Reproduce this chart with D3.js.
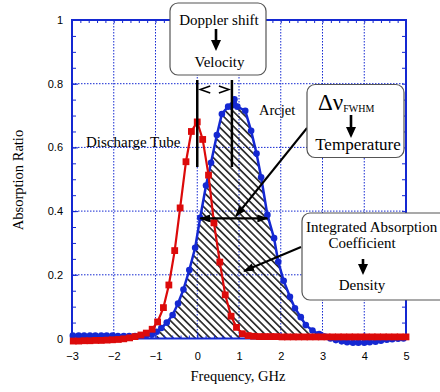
<!DOCTYPE html>
<html>
<head>
<meta charset="utf-8">
<script src="https://cdn.jsdelivr.net/npm/d3@7"></script>
<style>
  body { margin: 0; background: #fff; }
  svg { display: block; }
  .tick text { font-family: "Liberation Sans", Arial, sans-serif; font-size: 11px; fill: #000; }
  .serif { font-family: "Liberation Serif", "Times New Roman", serif; fill: #000; }
</style>
</head>
<body>
<svg id="chart" width="440" height="392"></svg>
<script>
// Discharge tube (red squares)
const tubeFreq = [-2.97, -2.84, -2.70, -2.57, -2.43, -2.30, -2.16, -2.03, -1.89, -1.76, -1.62, -1.49, -1.35, -1.22, -1.08,
  -0.95, -0.81, -0.68, -0.54, -0.41, -0.27, -0.14, 0.00, 0.13, 0.27, 0.40, 0.54, 0.67, 0.81, 0.94,
  1.08, 1.22, 1.35, 1.49, 1.62, 1.76, 1.89, 2.03, 2.16, 2.30, 2.43, 2.57, 2.70, 2.84, 2.97,
  3.11, 3.24, 3.38, 3.51, 3.65, 3.78, 3.92, 4.05, 4.19, 4.32, 4.46, 4.59, 4.73, 4.86, 5.00];
const tubeAbs = [-0.008, -0.008, -0.007, -0.007, -0.006, -0.006, -0.005, -0.004, -0.003, -0.001, 0.002, 0.006, 0.011, 0.017, 0.029,
  0.052, 0.097, 0.168, 0.276, 0.41, 0.555, 0.65, 0.68, 0.625, 0.513, 0.363, 0.24, 0.137, 0.07, 0.035,
  0.015, 0.009, 0.007, 0.006, 0.006, 0.006, 0.006, 0.005, 0.005, 0.005, 0.005, 0.005, 0.005, 0.005, 0.005,
  0.005, 0.005, 0.005, 0.005, 0.005, 0.005, 0.005, 0.005, 0.005, 0.005, 0.005, 0.005, 0.005, 0.005, 0.005];

// Arcjet (blue circles)
const jetFreq = [-2.98, -2.84, -2.71, -2.57, -2.44, -2.30, -2.17, -2.03, -1.90, -1.76, -1.63, -1.49, -1.36, -1.22,
  -1.09, -0.97, -0.86, -0.73, -0.59, -0.46, -0.33, -0.19, -0.05, 0.07, 0.21, 0.33, 0.47, 0.59, 0.74, 0.84,
  0.89, 0.96, 1.15, 1.29, 1.42, 1.53, 1.68, 1.84, 1.94, 2.07, 2.22, 2.34, 2.48, 2.60, 2.76, 2.92,
  3.05, 3.19, 3.32, 3.46, 3.59, 3.73, 3.86, 4.00, 4.13, 4.27, 4.40, 4.54, 4.67, 4.81, 4.94];
const jetAbs = [0.009, 0.009, 0.009, 0.009, 0.009, 0.009, 0.009, 0.009, 0.008, 0.008, 0.008, 0.008, 0.009, 0.010,
  0.012, 0.021, 0.033, 0.05, 0.074, 0.11, 0.154, 0.215, 0.285, 0.379, 0.48, 0.552, 0.639, 0.705, 0.728, 0.732,
  0.751, 0.728, 0.715, 0.652, 0.581, 0.506, 0.388, 0.315, 0.241, 0.181, 0.131, 0.095, 0.067, 0.042, 0.025, 0.014,
  0.006, 0.0, -0.005, -0.009, -0.012, -0.013, -0.013, -0.013, -0.012, -0.010, -0.007, -0.004, -0.002, -0.001, 0.0];

const xTicks = [-3, -2, -1, 0, 1, 2, 3, 4, 5];
const yTicks = [0, 0.2, 0.4, 0.6, 0.8, 1];
const yTickLabels = ["0", "0.2", "0.4", "0.6", "0.8", "1"];

// annotation anchors in data units
const shiftLines = [0, 0.83];      // line centres for Doppler shift
const fwhm = [0.07, 1.68];         // half-max span
const halfMax = 0.377;
const hatchRange = [-0.98, 3.06];  // integrated region

const BLUE = "#1428d2", RED = "#dc0a0a";

let margin = { top: 20, right: 34, bottom: 53.5, left: 72 },
  width = 440 - margin.left - margin.right,
  height = 392 - margin.top - margin.bottom;

const root = d3.select("#chart");
const defs = root.append("defs");

defs.append("pattern")
  .attr("id", "hatch")
  .attr("patternUnits", "userSpaceOnUse")
  .attr("width", 5.2).attr("height", 5.2)
  .attr("patternTransform", "rotate(-45)")
  .append("line")
  .attr("x1", 2.6).attr("y1", 0).attr("x2", 2.6).attr("y2", 5.2)
  .attr("stroke", "#000").attr("stroke-width", 1.4);

defs.append("marker")
  .attr("id", "head")
  .attr("markerUnits", "userSpaceOnUse")
  .attr("markerWidth", 11).attr("markerHeight", 8)
  .attr("refX", 10).attr("refY", 4)
  .attr("orient", "auto-start-reverse")
  .append("path")
  .attr("d", "M0,0 L11,4 L0,8 Z")
  .attr("fill", "#000");

let svg = root.append("g")
  .attr("transform", "translate(" + margin.left + "," + margin.top + ")");

let x = d3.scaleLinear().domain([-3, 5]).range([0, width]);
let y = d3.scaleLinear().domain([0, 1]).range([height, 0]);

// grid
svg.append("g").selectAll("line")
  .data(xTicks.slice(1, -1))
  .join("line")
  .attr("x1", d => x(d)).attr("x2", d => x(d))
  .attr("y1", 0).attr("y2", height)
  .attr("stroke", BLUE).attr("stroke-width", 1).attr("stroke-dasharray", "1.5,1.5");
svg.append("g").selectAll("line")
  .data(yTicks.slice(1, -1))
  .join("line")
  .attr("x1", 0).attr("x2", width)
  .attr("y1", d => y(d)).attr("y2", d => y(d))
  .attr("stroke", BLUE).attr("stroke-width", 1).attr("stroke-dasharray", "1.5,1.5");

// hatched integrated area
const jet = jetFreq.map((f, i) => ({ f: f, v: jetAbs[i] }));
const tube = tubeFreq.map((f, i) => ({ f: f, v: tubeAbs[i] }));

svg.append("path")
  .datum(jet.filter(d => d.f >= hatchRange[0] && d.f <= hatchRange[1]))
  .attr("fill", "url(#hatch)")
  .attr("d", d3.area().x(d => x(d.f)).y0(y(0)).y1(d => y(Math.max(d.v, 0))));

// axes
const xMinor = d3.range(-3, 5.001, 0.2);
const yMinor = d3.range(0, 1.001, 0.05);

function styleAxis(g) {
  g.select(".domain").remove();
  g.selectAll(".tick line").attr("stroke", BLUE).attr("stroke-width", 1);
}

svg.append("g").attr("transform", "translate(0," + height + ")")
  .call(d3.axisBottom(x).tickValues(xMinor).tickSize(-3).tickFormat("")).call(styleAxis);
svg.append("g").attr("transform", "translate(0," + height + ")")
  .call(d3.axisBottom(x).tickValues(xTicks).tickSize(-6).tickPadding(13.5).tickFormat(d3.format("d")))
  .call(styleAxis);
svg.append("g")
  .call(d3.axisTop(x).tickValues(xMinor).tickSize(-3).tickFormat("")).call(styleAxis);
svg.append("g")
  .call(d3.axisLeft(y).tickValues(yMinor).tickSize(-4).tickFormat("")).call(styleAxis);
svg.append("g")
  .call(d3.axisLeft(y).tickValues(yTicks).tickSize(-6).tickPadding(9).tickFormat((d, i) => yTickLabels[i]))
  .call(styleAxis);
svg.append("g").attr("transform", "translate(" + width + ",0)")
  .call(d3.axisRight(y).tickValues(yMinor).tickSize(-4).tickFormat("")).call(styleAxis);

svg.append("rect")
  .attr("width", width).attr("height", height)
  .attr("fill", "none").attr("stroke", BLUE).attr("stroke-width", 2);

// ---- series ----
const line = d3.line().x(d => x(d.f)).y(d => y(d.v));

svg.append("path").datum(jet)
  .attr("fill", "none").attr("stroke", BLUE).attr("stroke-width", 2.5)
  .attr("d", line);
svg.append("g").selectAll("circle").data(jet).join("circle")
  .attr("cx", d => x(d.f)).attr("cy", d => y(d.v)).attr("r", 3.3)
  .attr("fill", BLUE);

svg.append("path").datum(tube)
  .attr("fill", "none").attr("stroke", RED).attr("stroke-width", 2.2)
  .attr("d", line);
svg.append("g").selectAll("rect").data(tube).join("rect")
  .attr("x", d => x(d.f) - 3.4).attr("y", d => y(d.v) - 3.4)
  .attr("width", 6.8).attr("height", 6.8)
  .attr("fill", RED);

// ---- annotations ----
svg.selectAll(".shift").data(shiftLines).join("line")
  .attr("class", "shift")
  .attr("x1", d => x(d)).attr("x2", d => x(d))
  .attr("y1", 60).attr("y2", 147)
  .attr("stroke", "#000").attr("stroke-width", 2.5);

// open chevrons between the shift lines
const cy = 69.5;
svg.append("path")
  .attr("d", "M" + (x(shiftLines[0]) + 13) + "," + (cy - 3.5) + " L" + (x(shiftLines[0]) + 3) + "," + cy +
    " L" + (x(shiftLines[0]) + 13) + "," + (cy + 3.5))
  .attr("fill", "none").attr("stroke", "#000").attr("stroke-width", 1.5);
svg.append("path")
  .attr("d", "M" + (x(shiftLines[1]) - 13) + "," + (cy - 3.5) + " L" + (x(shiftLines[1]) - 3) + "," + cy +
    " L" + (x(shiftLines[1]) - 13) + "," + (cy + 3.5))
  .attr("fill", "none").attr("stroke", "#000").attr("stroke-width", 1.5);

// FWHM double arrow
svg.append("line")
  .attr("x1", x(fwhm[0])).attr("x2", x(fwhm[1]))
  .attr("y1", y(halfMax)).attr("y2", y(halfMax))
  .attr("stroke", "#000").attr("stroke-width", 2.2)
  .attr("marker-start", "url(#head)").attr("marker-end", "url(#head)");

// pointer lines (page coordinates)
root.append("line")
  .attr("x1", 307).attr("y1", 128).attr("x2", 236).attr("y2", 216)
  .attr("stroke", "#000").attr("stroke-width", 2).attr("marker-end", "url(#head)");
root.append("line")
  .attr("x1", 301).attr("y1", 247).attr("x2", 244).attr("y2", 271)
  .attr("stroke", "#000").attr("stroke-width", 2).attr("marker-end", "url(#head)");

// boxes
function box(x0, y0, w, h) {
  root.append("rect")
    .attr("x", x0).attr("y", y0).attr("width", w).attr("height", h)
    .attr("rx", 8).attr("ry", 8)
    .attr("fill", "#fff").attr("stroke", "#555").attr("stroke-width", 1.2);
}
function downArrow(cx, y1, y2) {
  root.append("line").attr("x1", cx).attr("x2", cx).attr("y1", y1).attr("y2", y2 - 9)
    .attr("stroke", "#000").attr("stroke-width", 2.6);
  root.append("path")
    .attr("d", "M" + (cx - 5) + "," + (y2 - 11) + " L" + (cx + 5) + "," + (y2 - 11) + " L" + cx + "," + y2 + " Z")
    .attr("fill", "#000");
}
function label(t, px, py, size, anchor) {
  return root.append("text").attr("class", "serif")
    .attr("x", px).attr("y", py)
    .attr("font-size", size)
    .attr("text-anchor", anchor || "middle")
    .text(t);
}

box(170, 3, 96, 72);
label("Doppler shift", 219, 25, 15);
downArrow(216, 29, 51);
label("Velocity", 219.5, 67, 15);

box(307, 84.5, 97, 73);
const dn = label("Δν", 318, 110, 23, "start");
dn.append("tspan").attr("font-size", 10).attr("dy", 1.5).text("FWHM");
downArrow(351, 115, 138);
label("Temperature", 358, 150, 17);

box(302, 213, 150, 87);
label("Integrated Absorption", 306, 232, 15, "start");
label("Coefficient", 362, 248, 15);
downArrow(363, 259, 275);
label("Density", 362, 290, 15);

label("Discharge Tube", 86, 147, 15, "start");
label("Arcjet", 259, 115, 14.5, "start");

// axis titles
label("Frequency, GHz", 238, 381, 14.5);
root.append("text").attr("class", "serif")
  .attr("transform", "translate(23,180) rotate(-90)")
  .attr("text-anchor", "middle").attr("font-size", 14.5)
  .text("Absorption Ratio");
</script>
</body>
</html>
